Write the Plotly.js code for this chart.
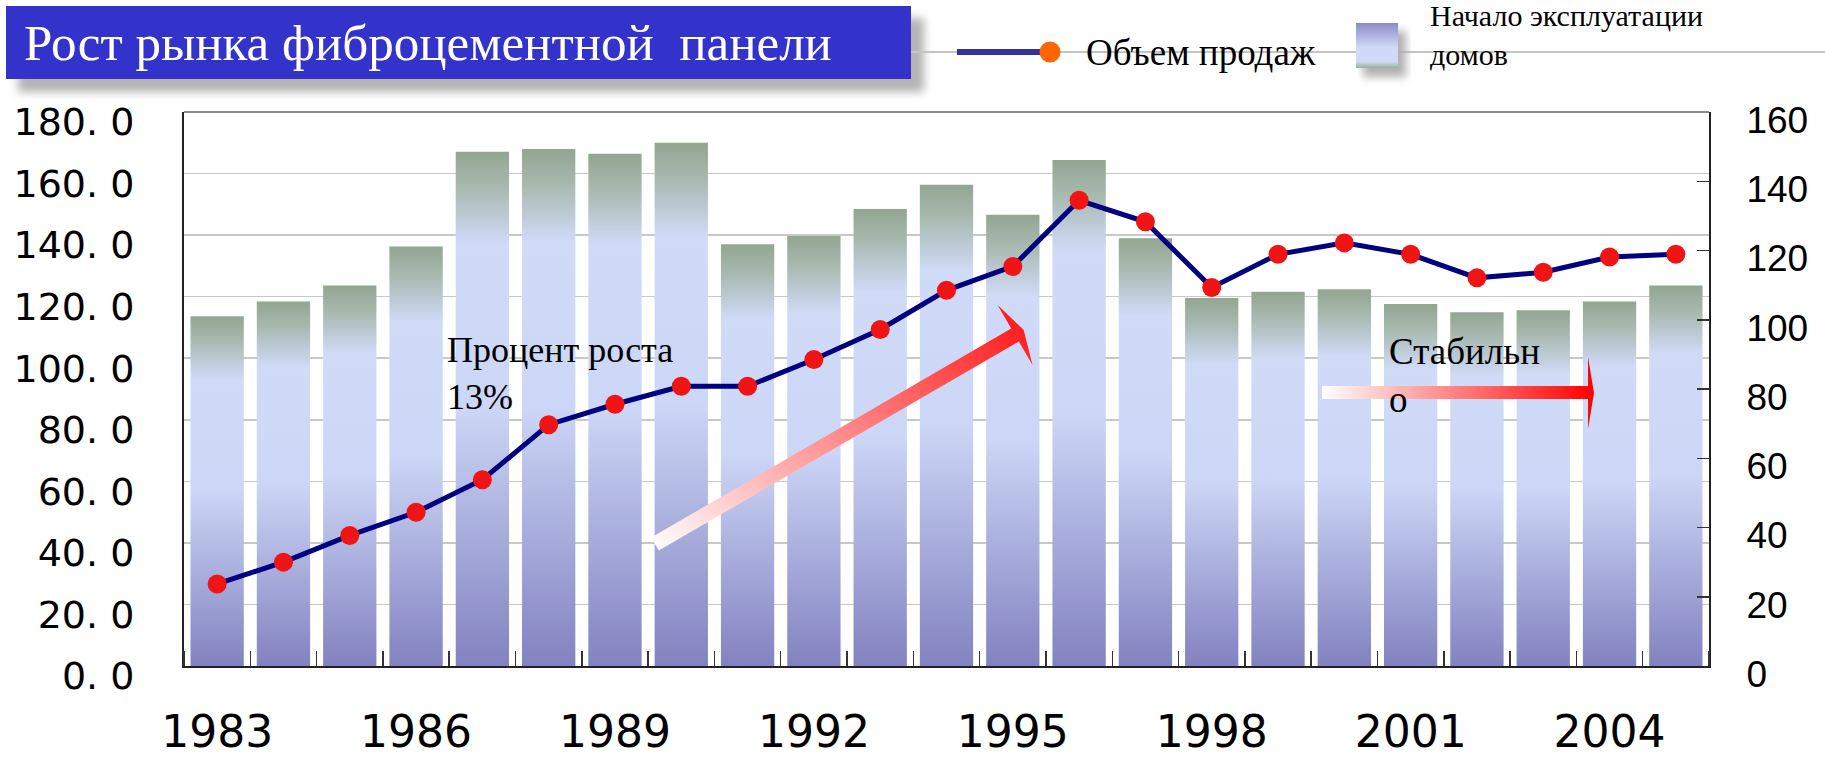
<!DOCTYPE html>
<html>
<head>
<meta charset="utf-8">
<script src="https://cdn.plot.ly/plotly-3.0.1.min.js"></script>
<style>
  html, body { margin: 0; padding: 0; background: #ffffff; }
  #chart { width: 1825px; height: 764px; }
</style>
</head>
<body>
<svg width="0" height="0" style="position:absolute;left:0;top:0" aria-hidden="true">
  <defs>
    <linearGradient id="barGrad" x1="0" y1="0" x2="0" y2="1">
      <stop offset="0" stop-color="#92a692"/>
      <stop offset="0.07" stop-color="#a8b9b0"/>
      <stop offset="0.18" stop-color="#d0dbf8"/>
      <stop offset="0.5" stop-color="#ccd6f6"/>
      <stop offset="1" stop-color="#8282c0"/>
    </linearGradient>
    <linearGradient id="legendGrad" x1="0" y1="0" x2="0" y2="1">
      <stop offset="0" stop-color="#8a8ac8"/>
      <stop offset="0.55" stop-color="#d0daf8"/>
      <stop offset="0.86" stop-color="#d0daf8"/>
      <stop offset="1" stop-color="#9aae9a"/>
    </linearGradient>
    <linearGradient id="arrowDiag" x1="0" y1="1" x2="1" y2="0">
      <stop offset="0" stop-color="#ffffff"/>
      <stop offset="1" stop-color="#ff1010"/>
    </linearGradient>
    <linearGradient id="arrowH" x1="0" y1="0" x2="1" y2="0">
      <stop offset="0" stop-color="#ffffff"/>
      <stop offset="1" stop-color="#ff0000"/>
    </linearGradient>
    <filter id="soft" x="-10%" y="-40%" width="120%" height="180%">
      <feGaussianBlur stdDeviation="4"/>
    </filter>
  </defs>
</svg>
<div id="chart"></div>
<script>
// ---------------- data ----------------
const years = [1983, 1984, 1985, 1986, 1987, 1988, 1989, 1990, 1991, 1992, 1993, 1994,
               1995, 1996, 1997, 1998, 1999, 2000, 2001, 2002, 2003, 2004, 2005];
// Начало эксплуатации домов (left axis)
const housingStarts = [113.6, 118.4, 123.6, 136.3, 167.1, 168.0, 166.4, 170.0, 137.0, 139.7, 148.5, 156.4,
                       146.6, 164.4, 139.0, 119.6, 121.6, 122.4, 117.6, 114.9, 115.6, 118.4, 123.6];
// Объем продаж (right axis)
const salesVolume = [23.7, 30.0, 37.7, 44.4, 53.8, 69.7, 75.6, 80.8, 80.8, 88.5, 97.2, 108.5,
                     115.4, 134.5, 128.3, 109.3, 118.9, 122.2, 118.9, 112.1, 113.7, 118.1, 118.9];
const xTickVals = [1983, 1986, 1989, 1992, 1995, 1998, 2001, 2004];
const xTickText = ['1983', '1986', '1989', '1992', '1995', '1998', '2001', '2004'];
const leftTickVals = [0, 20, 40, 60, 80, 100, 120, 140, 160, 180];
const leftTickText = ['0. 0', '20. 0', '40. 0', '60. 0', '80. 0', '100. 0', '120. 0', '140. 0', '160. 0', '180. 0'];
const rightTickVals = [0, 20, 40, 60, 80, 100, 120, 140, 160];

const titleText = 'Рост рынка фиброцементной\u00a0 панели';
const seriesLine = 'Объем продаж';
const seriesBars = 'Начало эксплуатации<br>домов';

// ---------------- geometry helpers (plot area in px) ----------------
const L = 184, R = 1709, T = 112, B = 666;
const W = R - L, H = B - T;
const px = X => (X - L) / W;
const py = Y => (B - Y) / H;
function poly(points) {
  return 'M' + points.map(p => px(p[0]).toFixed(5) + ',' + py(p[1]).toFixed(5)).join(' L') + ' Z';
}
function rect(x0, y0, x1, y1, extra) {
  return Object.assign({type: 'rect', xref: 'paper', yref: 'paper', layer: 'above',
    x0: px(x0), x1: px(x1), y0: py(y1), y1: py(y0), line: {width: 0}}, extra);
}

const shapes = [
  // 0 title shadow
  rect(18, 18, 924, 92, {fillcolor: '#b4b4b4'}),
  // 1 title box
  rect(6, 6, 911, 79, {fillcolor: '#3333cc'}),
  // 2 gray slide line
  {type: 'line', xref: 'paper', yref: 'paper', layer: 'above', x0: px(911), x1: px(1825), y0: py(52), y1: py(52),
   line: {color: '#c4c4c4', width: 2}},
  // 3 legend line
  {type: 'line', xref: 'paper', yref: 'paper', layer: 'above', x0: px(957), x1: px(1045), y0: py(52), y1: py(52),
   line: {color: '#333399', width: 6}},
  // 4 legend dot
  {type: 'circle', xref: 'paper', yref: 'paper', layer: 'above', x0: px(1039.5), x1: px(1060.5), y0: py(62.5), y1: py(41.5),
   fillcolor: '#ff6600', line: {width: 0}},
  // 5 legend square shadow
  rect(1363, 31, 1406, 77, {fillcolor: '#b0b0b0'}),
  // 6 legend square
  rect(1356, 23, 1398, 68, {fillcolor: '#c0c8f0'}),
  // 7 top border
  {type: 'line', xref: 'paper', yref: 'paper', layer: 'above', x0: 0, x1: 1, y0: 1, y1: 1,
   line: {color: '#8c8c8c', width: 2}},
  // 8 diagonal arrow
  {type: 'path', xref: 'paper', yref: 'paper', layer: 'above', fillcolor: '#ff8080', line: {width: 0},
   path: poly([[651.2, 537.5], [1011.2, 328.5], [997.4, 304.7], [1023.7, 330], [1032.6, 365.3], [1018.8, 341.5], [658.8, 550.5]])},
  // 9 horizontal arrow
  {type: 'path', xref: 'paper', yref: 'paper', layer: 'above', fillcolor: '#ff8080', line: {width: 0},
   path: poly([[1322, 386], [1588, 386], [1588, 357], [1594, 393], [1588, 429], [1588, 399], [1322, 399]])}
];
const shapeFill = {6: 'url(#legendGrad)', 8: 'url(#arrowDiag)', 9: 'url(#arrowH)'};
const shapeFilter = {0: 'url(#soft)', 5: 'url(#soft)'};

const serif = 'Liberation Serif, Times New Roman, serif';

const annotations = [
  {xref: 'paper', yref: 'paper', x: px(1084), y: py(52), xanchor: 'left', yanchor: 'middle', showarrow: false,
   text: seriesLine, font: {family: serif, size: 37, color: '#000000'}},
  {xref: 'paper', yref: 'paper', x: px(1428), y: py(35), xanchor: 'left', yanchor: 'middle', showarrow: false, align: 'left',
   text: seriesBars, font: {family: serif, size: 30, color: '#000000'}},
  {xref: 'paper', yref: 'paper', x: px(445), y: py(373), xanchor: 'left', yanchor: 'middle', showarrow: false, align: 'left',
   text: 'Процент роста<br>13%', font: {family: serif, size: 36, color: '#000000'}},
  {xref: 'paper', yref: 'paper', x: px(1387), y: py(375), xanchor: 'left', yanchor: 'middle', showarrow: false, align: 'left',
   text: 'Стабильн<br>о', font: {family: serif, size: 37, color: '#000000'}}
];

const data = [
  {
    type: 'bar', name: 'Начало эксплуатации домов', x: years, y: housingStarts, yaxis: 'y',
    marker: {color: '#c0c8f0', line: {width: 0}}, hoverinfo: 'x+y'
  },
  {
    type: 'scatter', mode: 'lines+markers', name: seriesLine, x: years, y: salesVolume, yaxis: 'y2',
    line: {color: '#000080', width: 5},
    marker: {color: '#f01414', size: 19, symbol: 'circle', line: {width: 0}}
  }
];

const layout = {
  width: 1825, height: 764,
  paper_bgcolor: '#ffffff', plot_bgcolor: '#ffffff',
  margin: {l: L, r: 1825 - R, t: T, b: 764 - B, pad: 0},
  showlegend: false,
  bargap: 0.196,
  title: {
    text: titleText, xref: 'container', yref: 'container', x: 24 / 1825, xanchor: 'left',
    y: 1 - 42 / 764, yanchor: 'middle',
    font: {family: serif, size: 51, color: '#ffffff'}
  },
  xaxis: {
    type: 'linear', range: [1982.5, 2005.5], tickmode: 'array', tickvals: xTickVals, ticktext: xTickText,
    ticks: '', showgrid: false, zeroline: false, showline: true, linecolor: '#222222', linewidth: 2,
    tickfont: {family: 'DejaVu Sans, sans-serif', size: 44, color: '#000000'},
    ticklabelstandoff: 26,
    minor: {ticks: 'inside', ticklen: 15, tickwidth: 1.5, tickcolor: '#333333', tick0: 1982.5, dtick: 1, showgrid: false}
  },
  yaxis: {
    range: [0, 180], tickmode: 'array', tickvals: leftTickVals, ticktext: leftTickText,
    ticks: '', showgrid: true, gridcolor: '#c8c8c8', gridwidth: 1.5, zeroline: false,
    showline: true, linecolor: '#222222', linewidth: 2,
    tickfont: {family: 'DejaVu Sans, sans-serif', size: 38, color: '#000000'},
    ticklabelstandoff: 40, ticklabelshift: 10
  },
  yaxis2: {
    range: [0, 160], tickmode: 'array', tickvals: rightTickVals, overlaying: 'y', side: 'right',
    ticks: 'inside', ticklen: 12, tickwidth: 1.5, tickcolor: '#333333',
    showgrid: false, zeroline: false, showline: true, linecolor: '#222222', linewidth: 2,
    tickfont: {family: 'Liberation Sans, Arial, sans-serif', size: 37, color: '#000000'},
    ticklabelstandoff: 28, ticklabelshift: 8
  },
  shapes: shapes,
  annotations: annotations
};

Plotly.newPlot('chart', data, layout, {staticPlot: true, displayModeBar: false}).then(function (gd) {
  gd.querySelectorAll('.barlayer .point path').forEach(function (p) {
    p.style.fill = 'url(#barGrad)';
  });
  gd.querySelectorAll('.shapelayer path').forEach(function (p) {
    const i = +p.getAttribute('data-index');
    if (shapeFill[i]) p.style.fill = shapeFill[i];
    if (shapeFilter[i]) p.setAttribute('filter', shapeFilter[i]);
  });
});
</script>
</body>
</html>
